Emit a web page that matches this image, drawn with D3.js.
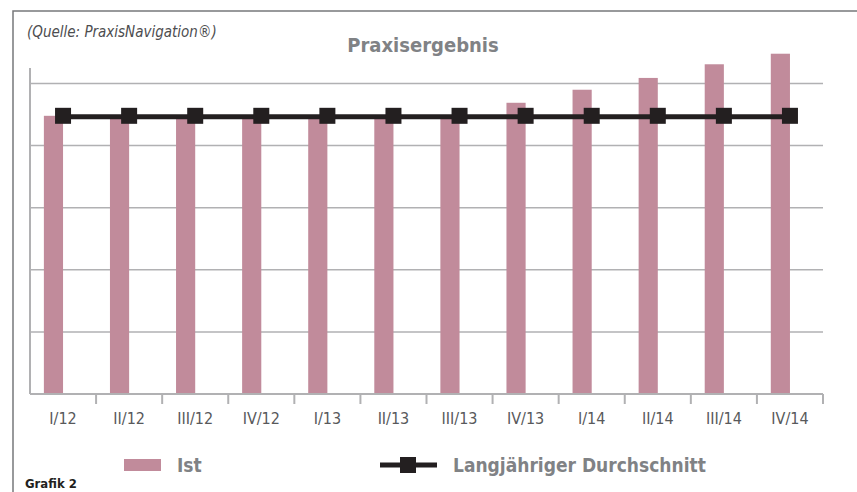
<!DOCTYPE html>
<html>
<head>
  <meta charset="utf-8">
  <title>Praxisergebnis</title>
  <script src="https://cdn.jsdelivr.net/npm/d3@7"></script>
  <style>
body {
  margin: 0;
  background: #fff;
  font-family: "Liberation Sans Narrow", "DejaVu Sans Condensed", "Liberation Sans", sans-serif;
}
.grid line { stroke: #b1b1b3; stroke-width: 1.5; }
.axis path, .axis line { stroke: #b1b1b3; stroke-width: 2; fill: none; }
.tick-label { fill: #58595b; font-size: 16px; }
.legend-text { fill: #808285; font-size: 19px; font-weight: bold; }
  </style>
</head>
<body>
<svg id="chart" width="857" height="492"></svg>
<script>
// quarters on the x axis
var quarters = ["I/12", "II/12", "III/12", "IV/12", "I/13", "II/13", "III/13",
                "IV/13", "I/14", "II/14", "III/14", "IV/14"];
// series "Ist" (no y labels in the source, values in gridline units)
var ist = [4.48, 4.48, 4.48, 4.48, 4.48, 4.48, 4.48, 4.69, 4.90, 5.09, 5.31, 5.48];
// series "Langjähriger Durchschnitt"
var durchschnitt = [4.48, 4.48, 4.48, 4.48, 4.48, 4.48, 4.48, 4.48, 4.48, 4.48, 4.48, 4.48];
var gridValues = [1, 2, 3, 4, 5];

var barColor = "#c18b9b",
    lineColor = "#231f20";

var svg = d3.select("#chart");

var plotLeft = 30, plotRight = 823, plotBottom = 394, plotTop = 68;

var x = d3.scaleBand().domain(quarters).range([plotLeft, plotRight]).padding(0);
var y = d3.scaleLinear().domain([0, 5.25]).range([plotBottom, plotTop]);
var bw = x.bandwidth();

// outer frame (top + left)
svg.append("path")
  .attr("d", "M13,492 V11 H857")
  .attr("fill", "none")
  .attr("stroke", "#77787b")
  .attr("stroke-width", 1.5);

svg.append("text")
  .attr("x", 27).attr("y", 37)
  .style("font-size", "15px")
  .style("font-style", "italic")
  .style("fill", "#4d4d4f")
  .text("(Quelle: PraxisNavigation®)");

svg.append("text")
  .attr("x", 423).attr("y", 52)
  .attr("text-anchor", "middle")
  .style("font-size", "20px")
  .style("font-weight", "bold")
  .style("fill", "#808285")
  .text("Praxisergebnis");

// gridlines
svg.append("g").attr("class", "grid")
  .selectAll("line").data(gridValues).enter().append("line")
  .attr("x1", plotLeft).attr("x2", plotRight)
  .attr("y1", function(d) { return y(d); })
  .attr("y2", function(d) { return y(d); });

// y axis line
svg.append("line")
  .attr("x1", plotLeft).attr("x2", plotLeft)
  .attr("y1", plotTop).attr("y2", plotBottom)
  .attr("stroke", "#b1b1b3").attr("stroke-width", 2);

// bars
svg.selectAll(".bar").data(ist).enter().append("rect")
  .attr("class", "bar")
  .attr("x", function(d, i) { return x(quarters[i]) + bw * 0.21; })
  .attr("width", bw * 0.29)
  .attr("y", function(d) { return y(d); })
  .attr("height", function(d) { return y(0) - y(d); })
  .attr("fill", barColor);

// x axis
var xg = svg.append("g").attr("class", "axis");
xg.append("line")
  .attr("x1", plotLeft).attr("x2", plotRight)
  .attr("y1", plotBottom).attr("y2", plotBottom);
xg.selectAll(".tk").data(quarters).enter().append("line")
  .attr("class", "tk")
  .attr("x1", function(d) { return x(d) + bw; })
  .attr("x2", function(d) { return x(d) + bw; })
  .attr("y1", plotBottom).attr("y2", plotBottom + 10);
xg.selectAll(".tick-label").data(quarters).enter().append("text")
  .attr("class", "tick-label")
  .attr("x", function(d) { return x(d) + bw / 2; })
  .attr("y", 424)
  .attr("text-anchor", "middle")
  .text(function(d) { return d; });

// average line with square markers
var line = d3.line()
  .x(function(d, i) { return x(quarters[i]) + bw / 2; })
  .y(function(d) { return y(d) + 1; });

svg.append("path")
  .datum(durchschnitt)
  .attr("d", line)
  .attr("fill", "none")
  .attr("stroke", lineColor)
  .attr("stroke-width", 5);

svg.selectAll(".marker").data(durchschnitt).enter().append("rect")
  .attr("class", "marker")
  .attr("x", function(d, i) { return x(quarters[i]) + bw / 2 - 8; })
  .attr("y", function(d) { return y(d) - 8; })
  .attr("width", 16).attr("height", 16)
  .attr("fill", lineColor);

// legend
svg.append("rect")
  .attr("x", 124).attr("y", 459).attr("width", 37).attr("height", 12)
  .attr("fill", barColor);
svg.append("text").attr("class", "legend-text")
  .attr("x", 177).attr("y", 472).text("Ist");

svg.append("line")
  .attr("x1", 380).attr("x2", 437).attr("y1", 465).attr("y2", 465)
  .attr("stroke", lineColor).attr("stroke-width", 5);
svg.append("rect")
  .attr("x", 400).attr("y", 457).attr("width", 16).attr("height", 16)
  .attr("fill", lineColor);
svg.append("text").attr("class", "legend-text")
  .attr("x", 453).attr("y", 472).text("Langjähriger Durchschnitt");

svg.append("text")
  .attr("x", 25).attr("y", 488)
  .style("font-size", "13px")
  .style("font-weight", "bold")
  .style("fill", "#231f20")
  .text("Grafik 2");
</script>
</body>
</html>
